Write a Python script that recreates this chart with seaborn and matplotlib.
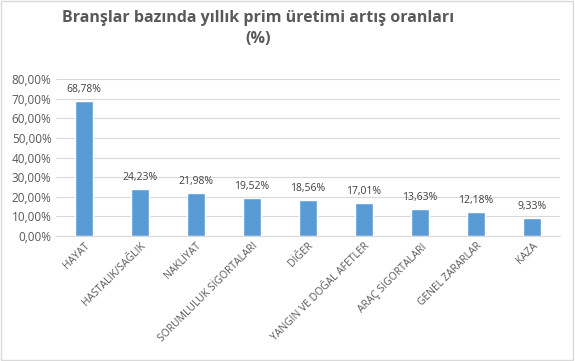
import seaborn as sns
import matplotlib.pyplot as plt
import pandas as pd
from matplotlib.ticker import FuncFormatter

# Data
branches = ['HAYAT', 'HASTALIK/SAĞLIK', 'NAKLİYAT', 'SORUMLULUK SİGORTALARI', 'DİĞER',
            'YANGIN VE DOĞAL AFETLER', 'ARAÇ SİGORTALARI', 'GENEL ZARARLAR', 'KAZA']
growth = [68.78, 24.23, 21.98, 19.52, 18.56, 17.01, 13.63, 12.18, 9.33]

data = pd.DataFrame({'Branş': branches, 'Artış': growth})

sns.set_style("white")
plt.rcParams['font.family'] = ['Open Sans', 'DejaVu Sans']

fig = plt.figure(figsize=(5.75, 3.61), dpi=100)
ax = fig.add_axes([0.097, 0.346, 0.877, 0.435])

sns.barplot(data=data, x='Branş', y='Artış', color='#5B9BD5', width=0.33,
            saturation=1, ax=ax)

ax.set_ylim(0, 80)
ax.set_yticks(range(0, 81, 10))
ax.yaxis.set_major_formatter(FuncFormatter(lambda v, p: f"{v:.2f}".replace('.', ',') + '%'))
ax.grid(axis='y', color='#D9D9D9', linewidth=0.8)
ax.set_axisbelow(True)
for s in ['top', 'right', 'left']:
    ax.spines[s].set_visible(False)
ax.spines['bottom'].set_color('#D9D9D9')
ax.tick_params(axis='y', length=0, labelsize=8.5, colors='#595959', pad=3)
ax.tick_params(axis='x', length=0, labelsize=7.5, colors='#595959', pad=3)
ax.set_xlabel('')
ax.set_ylabel('')
ax.set_xlim(-0.5, len(branches) - 0.5)
plt.setp(ax.get_xticklabels(), rotation=45, ha='right', rotation_mode='anchor')

for i, v in enumerate(growth):
    ax.text(i, v + 3, f"{v:.2f}".replace('.', ',') + '%', ha='center', va='bottom',
            fontsize=7.5, color='#404040')

fig.text(0.449, 0.972, 'Branşlar bazında yıllık prim üretimi artış oranları\n(%)',
         ha='center', va='top', fontsize=11.5, fontweight='bold', color='#595959',
         linespacing=1.4)

fig.patches.append(plt.Rectangle((0.002, 0.003), 0.995, 0.994, transform=fig.transFigure,
                                 fill=False, edgecolor='#D9D9D9', linewidth=1))

plt.savefig('out.png', dpi=100)
